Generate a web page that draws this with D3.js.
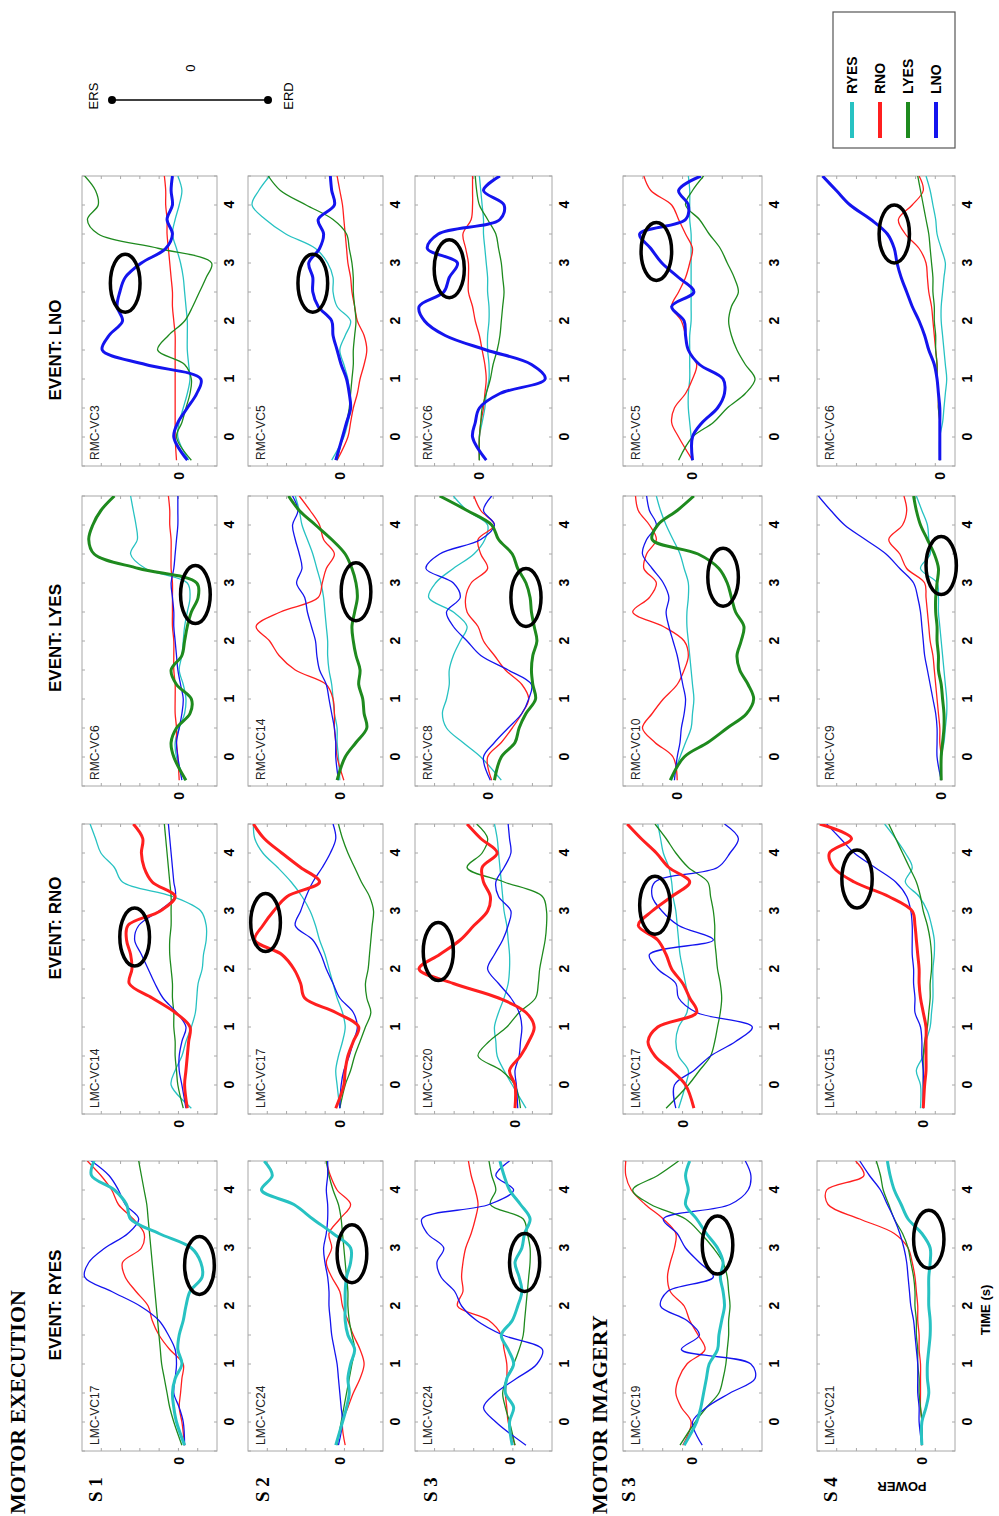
<!DOCTYPE html>
<html>
<head>
<meta charset="utf-8">
<script src="https://cdn.jsdelivr.net/npm/d3@7"></script>
<style>
  body { margin: 0; background: #fff; }
  svg { display: block; }
  text { font-family: "Liberation Sans", Arial, sans-serif; }
</style>
</head>
<body>
<div id="chart"></div>
<script>
// time samples (s)
var times = [-0.4, 0, 0.25, 0.5, 0.75, 1, 1.25, 1.5, 1.75, 2, 2.25, 2.5, 2.75, 3, 3.25, 3.5, 3.75, 4, 4.25, 4.5];
var timeTicks = [0, 1, 2, 3, 4];

var seriesNames = ["RYES", "RNO", "LYES", "LNO"];
var seriesColors = ["#27c2c2", "#ff1f1f", "#1e8a1e", "#1414ee"];
var eventNames = ["EVENT: RYES", "EVENT: RNO", "EVENT: LYES", "EVENT: LNO"];
var rowNames = ["S 1", "S 2", "S 3", "S 3", "S 4"];
var channels = [
  ["LMC-VC17", "LMC-VC14", "RMC-VC6", "RMC-VC3"],
  ["LMC-VC24", "LMC-VC17", "RMC-VC14", "RMC-VC5"],
  ["LMC-VC24", "LMC-VC20", "RMC-VC8", "RMC-VC6"],
  ["LMC-VC19", "LMC-VC17", "RMC-VC10", "RMC-VC5"],
  ["LMC-VC21", "LMC-VC15", "RMC-VC9", "RMC-VC6"]
];

// upper power limit of every panel (each panel spans 10 units)
var powerTop = [
  [7.2, 7.2, 7.2, 7.2],
  [6.8, 6.8, 6.8, 6.8],
  [6.9, 7.3, 5.3, 4.7],
  [5.0, 4.3, 3.9, 5.0],
  [7.6, 7.7, 9.0, 8.9]
];

// marked ERD/ERS episode of every panel
var circleTime = [
  [2.7, 2.55, 2.8, 2.65],
  [2.9, 2.8, 2.85, 2.65],
  [2.75, 2.3, 2.75, 2.9],
  [3.05, 3.1, 3.1, 3.2],
  [3.15, 3.55, 3.3, 3.5]
];
var circleValue = [
  [-1.5, 3.3, -1.2, 4.0],
  [-0.9, 5.5, -1.2, 2.0],
  [-1.1, 5.6, -2.8, 2.2],
  [-1.8, 2.0, -3.3, 2.6],
  [-0.5, 4.8, 0, 3.3]
];

// power curves of each panel, in order RYES, RNO, LYES, LNO
var s1_ryes = [
  [-0.4, 0.2, 0.4, 0.5, 0.3, -0.2, 0.1, 0, -0.3, -0.5, -0.8, -1.7, -1.6, -0.9, 1.5, 3.6, 3.9, 4.8, 6.5, 6.3],
  [-0.4, -0.2, 0, -0.1, -0.2, -0.3, 0.7, 1.5, 2.0, 2.3, 3.2, 4.0, 4.2, 2.8, 2.6, 3.4, 4.5, 5.0, 5.8, 6.8],
  [-0.2, 0.4, 0.7, 0.9, 1.1, 1.3, 1.4, 1.5, 1.6, 1.7, 1.8, 1.9, 2.0, 2.1, 2.2, 2.3, 2.4, 2.6, 2.8, 3.0],
  [-0.4, -0.3, 0, 0.4, 0.3, 0.2, 0.3, 0.8, 1.5, 2.9, 5.0, 7.0, 6.7, 5.5, 3.8, 3.0, 4.0, 4.5, 5.2, 6.5]
];
var s1_rno = [
  [-0.9, 0.6, 0.3, -0.2, -0.5, -0.9, -1.2, -1.3, -1.4, -1.7, -1.8, -2.0, -2.0, -1.6, 0.5, 4.2, 4.8, 5.8, 6.2, 6.6],
  [-0.6, -0.4, -0.5, -0.6, -0.7, -0.8, 0.3, 2.0, 3.7, 3.5, 3.6, 3.9, 3.8, 1.4, 0.3, 2.0, 2.6, 2.8, 2.7, 3.4],
  [-0.3, 0.1, 0.2, 0.3, 0.3, 0.4, 0.4, 0.5, 0.5, 0.6, 0.7, 0.7, 0.6, 0.6, 0.6, 0.7, 0.8, 0.9, 1.0, 1.1],
  [-0.5, -0.2, 0, 0, -0.2, -0.5, 0.2, 1.2, 1.8, 2.3, 2.8, 3.3, 3.0, 1.5, 0.3, 0.4, 0.5, 0.6, 0.7, 0.8]
];
var s1_lyes = [
  [-0.4, 0.2, 0.3, 0, -0.4, -0.5, -0.3, 0, -0.2, -0.3, -0.4, -0.6, -0.8, -0.6, 2.5, 3.6, 3.1, 3.2, 3.4, 3.6],
  [0, 0.1, 0.2, 0.2, 0.3, 0.3, 0.3, 0.4, 0.4, 0.4, 0.5, 0.5, 0.5, 0.5, 0.6, 0.6, 0.6, 0.7, 0.7, 0.8],
  [-0.5, 0.4, 0.6, 0.2, -0.8, -0.9, 0.2, 0.6, -0.2, -0.4, -0.6, -0.9, -1.4, -1.3, 3.0, 6.3, 6.7, 6.4, 5.8, 4.8],
  [-0.2, 0.1, 0.2, 0, -0.2, -0.3, -0.1, 0.1, 0.2, 0.3, 0.4, 0.4, 0.5, 0.6, 0.4, 0.3, 0.2, 0.1, 0.1, 0.1]
];
var s1_lno = [
  [-0.7, 0.1, 0, -0.3, -0.6, -0.8, -0.7, -0.6, -0.6, -0.6, -0.5, -0.4, -0.3, -0.1, 0.2, 0.5, 0.3, 0, -0.2, 0.1],
  [0.2, 0.3, 0.3, 0.3, 0.3, 0.3, 0.3, 0.3, 0.3, 0.4, 0.5, 0.5, 0.6, 0.7, 0.8, 0.9, 0.9, 1.0, 1.0, 1.1],
  [-0.9, 0.2, -0.2, -0.5, -0.8, -0.9, -0.4, 1.6, 0.8, -0.4, -1.0, -1.5, -2.0, -2.4, 1.5, 6.0, 6.8, 6.0, 6.2, 7.0],
  [-0.6, 0.4, 0.1, -0.6, -1.3, -1.6, 2.5, 5.7, 5.2, 4.2, 4.6, 4.4, 4.0, 2.8, 1.0, 0.5, 0.9, 0.5, 0.6, 0.5]
];

var s2_ryes = [
  [0.3, -0.2, -0.5, -0.7, -0.6, -0.8, -1.1, -0.6, -0.4, -0.4, -0.4, -0.5, -0.8, -0.8, 0.5, 2.0, 3.4, 5.8, 5.0, 5.6],
  [-0.4, -0.2, -0.6, -1.0, -1.5, -1.8, -1.5, -1.0, -0.6, -0.2, 0, 0.6, 1.0, 0.6, 0.8, 0, -0.8, 0.2, 0.7, 1.0],
  [0.2, -0.1, -0.3, -0.5, -0.7, -0.9, -1.1, -0.9, -0.7, -0.6, -0.6, -0.5, -0.4, -0.3, -0.2, -0.1, 0.1, 0.5, 0.8, 1.0],
  [0.1, -0.2, -0.1, 0, 0.1, 0.2, 0.4, 0.6, 0.7, 0.8, 0.8, 0.9, 1.1, 1.2, 1.0, 0.9, 0.9, 1.0, 0.9, 0.9]
];
var s2_rno = [
  [0, 0.2, 0.3, 0.1, -0.2, -0.4, -0.2, 0.2, 0.5, 0.8, 1.1, 1.5, 1.8, 2.2, 2.8, 3.6, 4.6, 5.7, 6.3, 6.4],
  [0.3, -0.3, -0.4, -0.6, -1.0, -1.4, 0.3, 2.6, 2.9, 3.4, 4.3, 6.3, 5.7, 4.9, 3.9, 1.5, 2.9, 4.3, 5.6, 6.4],
  [0, -0.4, -0.8, -1.1, -1.5, -1.9, -2.3, -2.0, -1.9, -2.1, -2.2, -2.3, -2.4, -2.5, -2.2, -1.6, -1.1, -0.6, -0.2, 0.1],
  [0, -0.1, -0.3, -0.7, -1.0, -1.3, -1.0, 0, 0.5, 1.0, 1.4, 2.0, 3.3, 2.9, 2.5, 2.0, 1.3, 0.7, 0.3, 0.5]
];
var s2_lyes = [
  [0, 0.1, 0.2, 0.2, 0.4, 0.5, 0.6, 0.8, 0.9, 0.9, 1.0, 1.1, 1.2, 1.4, 1.7, 2.0, 2.4, 2.8, 3.0, 3.3],
  [-0.3, 0.2, 0.3, 0.4, 0.4, 0.5, 1.0, 3.3, 4.5, 5.2, 6.2, 4.4, 1.6, 1.3, 1.0, 0.4, 1.2, 1.5, 2.2, 3.0],
  [0.2, -0.4, -1.2, -2.0, -1.8, -1.7, -1.4, -1.5, -1.2, -1.0, -0.9, -1.1, -1.3, -1.2, -0.9, -0.4, 0.6, 1.8, 3.0, 3.8],
  [0.1, 0.3, 0.3, 0.4, 0.6, 0.8, 1.0, 1.5, 1.7, 1.8, 2.1, 2.4, 2.6, 3.2, 2.8, 3.0, 3.3, 3.5, 3.1, 3.5]
];
var s2_lno = [
  [0.6, -0.3, -0.6, -0.8, -0.7, -0.6, -0.3, 0, -0.4, -0.8, 0.2, 0.5, 0.5, 0.9, 1.8, 4.0, 5.5, 6.5, 6.0, 5.2],
  [0.2, -0.6, -0.8, -1.0, -1.3, -1.5, -1.8, -2.0, -1.8, -1.3, -1.1, -0.9, -0.8, -0.6, -0.5, -0.4, -0.3, -0.2, 0, 0.2],
  [0.2, -0.2, -0.5, -0.7, -0.8, -0.9, -1.0, -1.0, -1.1, -1.2, -1.1, -1.0, -1.0, -0.9, -0.7, -0.5, 0.5, 2.5, 4.4, 5.3],
  [0.3, -0.2, -0.5, -0.8, -0.7, -0.5, -0.1, 0.2, 0.5, 0.6, 1.6, 2.0, 2.0, 2.3, 1.5, 1.2, 1.6, 0.4, 0.6, 0.7]
];

var s3_ryes = [
  [-0.2, 0, -0.3, 0.3, 0.2, -0.3, 0.1, 0.6, -0.2, -0.6, -0.9, -0.7, -0.4, -0.9, -1.1, -1.5, -0.8, 0, 0.4, 0.7],
  [-0.4, 0.1, 0.2, 0.3, 0.2, 0.2, 0.4, 0.6, 1.5, 3.8, 3.4, 3.5, 3.4, 3.2, 2.8, 2.5, 2.3, 2.5, 2.8, 3.0],
  [-0.4, 0, 0.3, 0.5, 0.2, -0.3, -0.7, -1.0, -1.1, -1.2, -1.3, -1.4, -1.5, -1.5, -1.3, -1.0, 1.4, 1.0, 1.3, 1.5],
  [-1.2, 1.0, 1.9, 1.0, -0.5, -2.0, -2.4, 0.5, 2.4, 3.5, 4.0, 5.0, 5.3, 4.8, 6.0, 6.4, 1.5, -0.3, 1.0, 0]
];
var s3_rno = [
  [-0.8, 0.2, 0.8, 1.3, 1.4, 1.5, 1.2, 0.8, 0.5, 0.4, 0.4, 0.5, 0.6, 0.8, 0.9, 1.0, 1.1, 1.2, 1.3, 1.5],
  [0, 0, 0.4, -0.4, -1.0, -1.4, -0.8, 1.2, 4.5, 7.0, 5.5, 4.0, 3.0, 2.0, 1.8, 2.3, 2.4, 1.3, 2.5, 3.5],
  [-0.4, 0, 1.0, 2.7, 1.9, 0.6, -0.3, -1.5, -1.7, -1.8, -2.0, -2.2, -2.3, -2.3, -2.0, 0.8, 3.5, 2.4, 2.0, 2.8],
  [-0.2, -0.1, 0, -0.3, -0.4, -0.5, -0.3, 0.3, 1.2, 2.0, 1.5, 0.9, 0.5, 0.3, 1.2, 1.4, 0.8, 0.3, 0.4, 0.5]
];
var s3_lyes = [
  [-1.0, 0.5, 1.8, 3.0, 3.3, 3.0, 2.8, 2.8, 2.5, 2.0, 1.5, 2.5, 4.3, 3.8, 2.5, 1.0, 0.2, 0, 1.5, 2.5],
  [-0.3, 0, -1.0, -1.8, -2.5, -3.0, -2.5, -1.3, -0.5, 0.3, 0.7, 1.5, 1.6, 1.2, 0, 0.5, 0.7, -0.5, 0.5, 1.0],
  [-0.5, -1.0, -2.0, -2.3, -2.8, -3.5, -3.3, -3.2, -3.3, -3.6, -3.4, -3.2, -3.1, -2.8, -2.2, -1.8, -0.8, -0.3, 1.5, 3.5],
  [-0.2, 0.3, -0.5, -1.5, -2.5, -3.0, -3.2, -1.5, 0.5, 1.5, 2.5, 3.0, 2.0, 2.5, 4.5, 3.5, 0.5, -0.5, 0.3, -0.3]
];
var s3_lno = [
  [0, 0, -0.2, -0.4, -0.5, -0.7, -0.7, -0.6, -0.6, -0.7, -0.7, -0.6, -0.6, -0.5, -0.4, -0.3, -0.3, -0.2, -0.1, 0],
  [0, 0, -0.1, -0.3, -0.4, -0.5, -0.4, -0.2, 0, 0.3, 0.5, 0.8, 0.8, 0.8, 1.0, 1.2, 0.6, 0.5, 0.5, 0.5],
  [0, 0, -0.1, -0.2, -0.5, -0.8, -1.0, -1.3, -1.5, -1.6, -1.7, -1.8, -1.7, -1.6, -1.4, -1.2, -0.6, 0, 0.2, 0.3],
  [-0.5, 0.5, 0.3, 0, -1.5, -4.8, -3.8, -0.5, 2.5, 4.0, 4.4, 2.6, 2.2, 1.6, 3.8, 3.0, -1.5, -1.8, -0.3, -1.5]
];

var s3i_ryes = [
  [0.6, -0.3, -0.6, -0.8, -1.0, -1.2, -1.8, -1.9, -2.1, -2.3, -2.2, -2.0, -2.2, -1.8, -1.0, -0.3, 0.5, 0.3, 0.5, 0.2],
  [0.7, 0.1, 0.8, 1.2, 1.0, 0.4, -0.9, -0.4, 0.2, 0.6, 1.6, 1.8, 1.6, 1.3, 1.2, 2.1, 3.4, 4.4, 4.8, 4.8],
  [0.9, -0.2, -1.0, -1.9, -2.2, -2.4, -2.5, -2.6, -2.6, -2.7, -2.6, -2.5, -2.2, -1.5, -0.6, 0.5, 3.0, 4.3, 2.5, 1.0],
  [-0.7, 0, -1.0, -2.7, -4.5, -4.2, 0.8, -0.5, 0.4, 2.3, 1.8, -1.5, -0.5, 0.5, 1.1, 2.1, -2.7, -4.0, -4.2, -3.8]
];
var s3i_rno = [
  [0.3, -0.2, -0.4, 0.3, 0.5, 0.3, -0.3, -0.4, -0.2, 0, 0.2, 0.3, 0.4, 0.5, 0.7, 0.8, 1.0, 1.4, 1.6, 1.8],
  [-0.8, -0.2, 0.8, 2.0, 2.5, 1.8, -1.0, -0.5, 0, 0.8, 1.2, 1.8, 3.2, 2.2, 0.8, -0.5, 1.0, 1.9, 3.0, 4.0],
  [1.2, -0.4, -1.2, -2.0, -2.3, -2.5, -2.7, -2.8, -2.7, -2.5, -2.4, -2.3, -2.3, -2.2, -2.0, -1.8, -0.4, 0.5, 1.2, 2.0],
  [0.5, 0.6, -0.8, -2.0, -3.8, -5.0, -1.0, 0.3, 0.5, 1.8, 2.4, -2.2, 0.3, 1.5, 2.2, 2.0, -2.5, -3.4, -4.0, -3.0]
];
var s3i_lyes = [
  [0.4, -0.2, -0.6, -1.0, -1.1, -1.2, -1.1, -1.0, -0.9, -0.8, -0.7, -0.7, -0.8, -0.8, -0.5, -0.2, 0.3, 0.8, 1.2, 1.5],
  [0, 0.3, 1.6, 2.5, 1.8, 1.0, 0, -0.5, -0.8, -0.5, 1.0, 3.2, 2.0, 1.5, 2.4, 2.2, 1.5, 2.0, 2.8, 3.0],
  [0.5, -0.5, -2.2, -3.6, -5.0, -5.5, -5.1, -4.5, -4.3, -4.6, -4.8, -4.2, -3.9, -3.6, -3.0, -1.5, 1.8, 1.4, 0, -1.2],
  [0.2, 0, -0.2, -0.3, -0.5, -0.6, -0.4, -0.2, 0, 0.3, 0.6, 0.8, 0.6, 1.0, 1.8, 2.5, 2.2, 1.5, 2.0, 2.2]
];
var s3i_lno = [
  [0, 0.1, 0.2, 0.3, 0.3, 0.2, 0.2, 0.2, 0.2, 0.1, 0.1, 0.1, 0.1, 0.1, 0.1, 0.1, 0.2, 0.2, 0.2, 0.3],
  [0, 1.0, 1.5, 1.3, 0.5, 0, -0.3, 0.3, 0.5, 0.8, 1.5, 1.0, 0.5, 0.2, 0, 0.5, 1.0, 1.5, 3.0, 3.5],
  [1.0, 0, -1.5, -2.5, -3.8, -4.5, -3.8, -3.2, -2.8, -2.6, -2.8, -3.3, -3.0, -2.5, -2.0, -1.2, -0.5, 0.5, 0, -0.8],
  [0, 0, -0.7, -1.8, -2.3, -2.2, -0.5, 0.3, 0.5, 0.6, 1.5, -0.1, 1.0, 2.2, 3.0, 3.8, 0.5, 0.3, 1.0, -0.6]
];

var s4_ryes = [
  [0, 0, -0.3, -0.5, -0.4, -0.4, -0.5, -0.6, -0.6, -0.5, -0.5, -0.5, -0.6, -0.6, 0, 1.0, 1.5, 2.0, 2.3, 2.5],
  [0, 0, 0.1, 0.1, 0.1, 0.1, 0.2, 0.2, 0.3, 0.3, 0.4, 0.5, 0.7, 1.0, 2.0, 4.5, 6.8, 6.9, 4.2, 4.8],
  [0, 0, 0.1, 0.2, 0.2, 0.3, 0.3, 0.4, 0.4, 0.5, 0.5, 0.6, 0.8, 1.0, 1.4, 2.0, 2.4, 2.8, 3.0, 3.3],
  [0, 0.2, 0.2, 0.3, 0.3, 0.3, 0.4, 0.5, 0.6, 0.8, 0.9, 1.0, 1.1, 1.3, 1.6, 2.0, 2.5, 3.0, 3.8, 4.5]
];
var s4_rno = [
  [0.2, 0.2, 0.5, 0, -0.2, -0.5, -0.6, -0.7, -0.7, -0.7, -0.8, -0.8, -0.6, -0.3, 0.3, 1.3, 0.8, 1.3, 2.0, 2.8],
  [0, -0.1, -0.2, -0.2, -0.2, -0.2, 0, 0.2, 0.3, 0.3, 0.4, 0.5, 0.6, 0.8, 2.5, 5.0, 6.5, 6.8, 5.2, 7.5],
  [0, 0, 0, 0, -0.1, -0.3, -0.4, -0.5, -0.5, -0.6, -0.6, -0.5, -0.3, 0, 0.2, 0.5, 1.0, 1.5, 2.0, 2.5],
  [0, 0, 0, 0.1, 0.1, 0.2, 0.6, 0.6, 0.7, 0.7, 0.8, 0.8, 0.8, 0.9, 1.2, 2.0, 3.5, 5.0, 6.0, 7.0]
];
var s4_lyes = [
  [0, 0, -0.2, -0.3, -0.4, -0.4, -0.3, -0.2, -0.1, 0, 0.1, 0.2, 0.2, 0.3, 1.5, 0.8, 0.9, 1.0, 1.4, 1.8],
  [0, 0, 0.1, 0.1, 0.2, 0.3, 0.4, 0.5, 0.6, 0.8, 0.9, 1.0, 1.1, 1.2, 2.5, 3.0, 3.8, 2.8, 2.5, 2.7],
  [0, 0, -0.1, -0.2, -0.2, -0.1, 0, 0.2, 0.2, 0.3, 0.3, 0.4, 0.4, 0.3, 0.2, 0.5, 1.0, 1.5, 1.8, 2.0],
  [0, 0.3, 0.3, 0.3, 0.4, 0.6, 0.8, 1.0, 1.2, 1.3, 1.4, 1.5, 1.7, 2.0, 3.0, 4.0, 5.5, 7.0, 8.0, 8.9]
];
var s4_lno = [
  [0, 0, -0.2, -0.3, -0.4, -0.5, -0.4, -0.3, -0.2, -0.1, -0.1, -0.2, -0.3, -0.4, -0.1, 0.2, 0.3, 0.5, 0.7, 1.0],
  [0, 0, 0, 0.1, 0.1, 0.2, 0.2, 0.3, 0.4, 0.5, 0.6, 0.8, 0.9, 1.0, 1.5, 2.5, 3.0, 2.0, 1.2, 1.5],
  [0, 0, 0, 0.1, 0.1, 0.2, 0.2, 0.3, 0.3, 0.4, 0.4, 0.5, 0.5, 0.6, 0.7, 0.8, 1.0, 1.2, 1.4, 1.6],
  [0, 0, 0, 0, 0.1, 0.2, 0.4, 0.8, 1.1, 1.5, 2.0, 2.4, 2.8, 3.1, 3.3, 3.8, 5.0, 6.5, 7.5, 8.5]
];

var panels = [
  [s1_ryes, s1_rno, s1_lyes, s1_lno],
  [s2_ryes, s2_rno, s2_lyes, s2_lno],
  [s3_ryes, s3_rno, s3_lyes, s3_lno],
  [s3i_ryes, s3i_rno, s3i_lyes, s3i_lno],
  [s4_ryes, s4_rno, s4_lyes, s4_lno]
];

// the figure is laid out landscape and then turned a quarter turn
var svgWidth = 999;
var svgHeight = 1516;

var colLeft = [65, 402, 730, 1050];
var panelWidth = 290;
var rowTop = [82, 248, 415, 623, 817];
var rowHeight = [135, 135, 137, 139, 138];
var rowLabelY = [102, 269, 437, 635, 837];
var eventX = [211, 588, 878, 1166];

var svg = d3.select("#chart")
  .append("svg")
  .attr("width", svgWidth)
  .attr("height", svgHeight);

var fig = svg.append("g")
  .attr("transform", `translate(0, ${svgHeight}) rotate(-90)`);

var defs = svg.append("defs");

// section and event titles
fig.append("text")
  .attr("x", 2).attr("y", 25)
  .style("font-family", "'Liberation Serif', 'Times New Roman', serif")
  .style("font-weight", "bold").style("font-size", "22px")
  .text("MOTOR EXECUTION");

fig.append("text")
  .attr("x", 2).attr("y", 607)
  .style("font-family", "'Liberation Serif', 'Times New Roman', serif")
  .style("font-weight", "bold").style("font-size", "22px")
  .text("MOTOR IMAGERY");

fig.selectAll(".eventTitle")
  .data(eventNames)
  .enter()
  .append("text")
  .attr("class", "eventTitle")
  .attr("x", (d, j) => eventX[j])
  .attr("y", 61)
  .attr("text-anchor", "middle")
  .style("font-weight", "bold").style("font-size", "17px")
  .text(d => d);

fig.selectAll(".rowTitle")
  .data(rowNames)
  .enter()
  .append("text")
  .attr("class", "rowTitle")
  .attr("x", 14)
  .attr("y", (d, i) => rowLabelY[i])
  .style("font-family", "'Liberation Serif', 'Times New Roman', serif")
  .style("font-weight", "bold").style("font-size", "19px")
  .text(d => d);

// one small chart per subject and event
panels.forEach(function(row, i) {
  row.forEach(function(curves, j) {
    var x0 = colLeft[j];
    var y0 = rowTop[i];
    var h = rowHeight[i];

    var xScale = d3.scaleLinear()
      .domain([-0.5, 4.5])
      .range([x0, x0 + panelWidth]);

    var yScale = d3.scaleLinear()
      .domain([powerTop[i][j] - 10, powerTop[i][j]])
      .range([y0 + h, y0]);

    var panel = fig.append("g");

    // frame with small inner ticks
    panel.append("rect")
      .attr("x", x0).attr("y", y0)
      .attr("width", panelWidth).attr("height", h)
      .attr("fill", "none")
      .attr("stroke", "#a8a8a8")
      .attr("stroke-width", 1);

    var minorT = d3.range(-0.5, 4.51, 0.5);
    var minorV = d3.range(0, 11).map(k => powerTop[i][j] - 10 + k * 10 / 7).filter(v => v < powerTop[i][j] - 0.3 && v > powerTop[i][j] - 9.7);

    panel.selectAll(".tickB")
      .data(minorT)
      .enter()
      .append("line")
      .attr("x1", d => xScale(d)).attr("x2", d => xScale(d))
      .attr("y1", y0 + h).attr("y2", y0 + h - 3)
      .attr("stroke", "#a8a8a8");

    panel.selectAll(".tickT")
      .data(minorT)
      .enter()
      .append("line")
      .attr("x1", d => xScale(d)).attr("x2", d => xScale(d))
      .attr("y1", y0).attr("y2", y0 + 3)
      .attr("stroke", "#a8a8a8");

    panel.selectAll(".tickL")
      .data(minorV)
      .enter()
      .append("line")
      .attr("x1", x0).attr("x2", x0 + 3)
      .attr("y1", d => yScale(d)).attr("y2", d => yScale(d))
      .attr("stroke", "#a8a8a8");

    panel.selectAll(".tickR")
      .data(minorV)
      .enter()
      .append("line")
      .attr("x1", x0 + panelWidth).attr("x2", x0 + panelWidth - 3)
      .attr("y1", d => yScale(d)).attr("y2", d => yScale(d))
      .attr("stroke", "#a8a8a8");

    // labelled axes
    var bottomAxis = d3.axisBottom(xScale)
      .tickValues(timeTicks)
      .tickSize(0)
      .tickPadding(7)
      .tickFormat(d3.format("d"));

    var leftAxis = d3.axisLeft(yScale)
      .tickValues([0])
      .tickSize(0)
      .tickPadding(6);

    var gx = panel.append("g")
      .attr("transform", `translate(0, ${y0 + h})`)
      .call(bottomAxis);
    var gy = panel.append("g")
      .attr("transform", `translate(${x0}, 0)`)
      .call(leftAxis);

    [gx, gy].forEach(function(g) {
      g.select(".domain").remove();
      g.selectAll("text")
        .style("font-family", "'Liberation Sans', Arial, sans-serif")
        .style("font-weight", "bold")
        .style("font-size", "14px")
        .attr("fill", "#000");
    });

    // channel name
    panel.append("text")
      .attr("x", x0 + 6)
      .attr("y", y0 + 17)
      .style("font-size", "12px")
      .attr("fill", "#222")
      .text(channels[i][j]);

    // curves, the event's own curve drawn bold on top
    var clipId = `clip-${i}-${j}`;
    defs.append("clipPath")
      .attr("id", clipId)
      .append("rect")
      .attr("x", x0).attr("y", y0)
      .attr("width", panelWidth).attr("height", h);

    var line = d3.line()
      .x((d, k) => xScale(times[k]))
      .y(d => yScale(d))
      .curve(d3.curveCatmullRom.alpha(0.5));

    var order = [0, 1, 2, 3].filter(k => k !== j).concat([j]);

    panel.append("g")
      .attr("clip-path", `url(#${clipId})`)
      .selectAll("path")
      .data(order)
      .enter()
      .append("path")
      .attr("d", k => line(curves[k]))
      .attr("fill", "none")
      .attr("stroke", k => seriesColors[k])
      .attr("stroke-width", k => k === j ? 3 : 1.3)
      .attr("stroke-linejoin", "round");

    // marked episode
    var ct = circleTime[i][j];
    var cv = circleValue[i][j];
    panel.append("ellipse")
      .attr("cx", xScale(ct))
      .attr("cy", yScale(cv))
      .attr("rx", xScale(ct + 0.5) - xScale(ct))
      .attr("ry", yScale(cv) - yScale(cv + 1.1))
      .attr("fill", "none")
      .attr("stroke", "#000")
      .attr("stroke-width", 3.5);
  });
});

// axis names
fig.append("text")
  .attr("transform", "translate(34, 902) rotate(-90)")
  .attr("text-anchor", "middle")
  .style("font-weight", "bold").style("font-size", "13px")
  .text("POWER");

fig.append("text")
  .attr("x", 206).attr("y", 990)
  .attr("text-anchor", "middle")
  .style("font-weight", "bold").style("font-size", "13px")
  .text("TIME (s)");

// ERS / ERD direction key
var keyY = d3.scaleLinear().domain([1, -1]).range([112, 268]);
var key = fig.append("g");
key.append("line")
  .attr("x1", 1416).attr("x2", 1416)
  .attr("y1", keyY(1)).attr("y2", keyY(-1))
  .attr("stroke", "#000").attr("stroke-width", 1.5);
key.selectAll("circle")
  .data([1, -1])
  .enter()
  .append("circle")
  .attr("cx", 1416).attr("cy", d => keyY(d))
  .attr("r", 4).attr("fill", "#000");
key.append("text")
  .attr("x", 1420).attr("y", keyY(1) - 14)
  .attr("text-anchor", "middle")
  .style("font-size", "13px")
  .text("ERS");
key.append("text")
  .attr("x", 1420).attr("y", keyY(-1) + 25)
  .attr("text-anchor", "middle")
  .style("font-size", "13px")
  .text("ERD");
key.append("text")
  .attr("x", 1448).attr("y", keyY(0) + 5)
  .attr("text-anchor", "middle")
  .style("font-size", "13px")
  .text("0");

// legend
var legend = fig.append("g");
legend.append("rect")
  .attr("x", 1368).attr("y", 833)
  .attr("width", 136).attr("height", 122)
  .attr("fill", "#fff")
  .attr("stroke", "#555")
  .attr("stroke-width", 1.2);

var legendRow = d3.scalePoint().domain(seriesNames).range([852, 936]);

legend.selectAll("line")
  .data(seriesNames)
  .enter()
  .append("line")
  .attr("x1", 1378).attr("x2", 1414)
  .attr("y1", d => legendRow(d)).attr("y2", d => legendRow(d))
  .attr("stroke", (d, k) => seriesColors[k])
  .attr("stroke-width", 4);

legend.selectAll("text")
  .data(seriesNames)
  .enter()
  .append("text")
  .attr("x", 1422)
  .attr("y", d => legendRow(d) + 5)
  .style("font-weight", "bold").style("font-size", "14px")
  .text(d => d);
</script>
</body>
</html>
